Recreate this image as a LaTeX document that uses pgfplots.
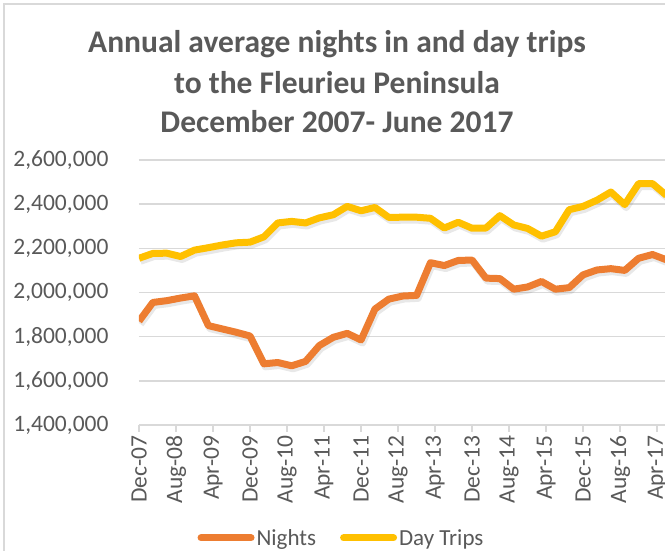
\documentclass[border=0pt]{standalone}
\usepackage{pgfplots}
\usepackage{pgfplotstable}
\pgfplotsset{compat=1.18}
\usepackage{fontspec}
\setmainfont{Carlito}

\definecolor{txt}{HTML}{595959}
\definecolor{gridc}{HTML}{D9D9D9}
\definecolor{nights}{HTML}{ED7D31}
\definecolor{daytrips}{HTML}{FFC000}

% months since Dec-07, quarterly annual averages
\pgfplotstableread{
m   nights   day
0   1870000  2155000
3   1955000  2177000
6   1963000  2178000
9   1975000  2163000
12  1985000  2192000
15  1850000  2203000
18  1835000  2215000
21  1820000  2225000
24  1803000  2228000
27  1677000  2252000
30  1683000  2315000
33  1668000  2322000
36  1688000  2315000
39  1760000  2338000
42  1797000  2352000
45  1815000  2390000
48  1785000  2370000
51  1925000  2385000
54  1970000  2340000
57  1984000  2341000
60  1987000  2341000
63  2135000  2336000
66  2122000  2292000
69  2145000  2318000
72  2147000  2291000
75  2065000  2292000
78  2063000  2348000
81  2015000  2306000
84  2025000  2290000
87  2050000  2255000
90  2015000  2275000
93  2022000  2375000
96  2080000  2390000
99  2102000  2418000
102 2108000  2455000
105 2100000  2398000
108 2155000  2493000
111 2172000  2493000
114 2148000  2440000
}\data

\begin{document}
\begin{tikzpicture}[x=1pt,y=1pt]
\useasboundingbox (0,0) rectangle (665,551);
\draw[gridc, line width=1.5pt] (4,-20) -- (4,547) -- (700,547);

\node[anchor=base, font=\fontsize{31.5}{36}\selectfont\bfseries, text=txt] at (337,498) {Annual average nights in and day trips};
\node[anchor=base, font=\fontsize{31.5}{36}\selectfont\bfseries, text=txt] at (337,457) {to the Fleurieu Peninsula};
\node[anchor=base, font=\fontsize{31.5}{36}\selectfont\bfseries, text=txt] at (337,418) {December 2007- June 2017};

\begin{axis}[
  at={(139pt,126pt)}, anchor=south west,
  width=526pt, height=265pt, scale only axis,
  xmin=0, xmax=113.7,
  ymin=1400000, ymax=2600000,
  ytick={1400000,1600000,...,2600000},
  scaled y ticks=false,
  /pgf/number format/assume math mode=true,
  /pgf/number format/fixed,
  /pgf/number format/1000 sep={,},
  xtick={0,8,...,112},
  xticklabels={Dec-07,Aug-08,Apr-09,Dec-09,Aug-10,Apr-11,Dec-11,Aug-12,Apr-13,Dec-13,Aug-14,Apr-15,Dec-15,Aug-16,Apr-17},
  x tick label style={rotate=90, anchor=east, font=\fontsize{23.5}{28}\selectfont, text=txt},
  y tick label style={font=\fontsize{23.5}{28}\selectfont, text=txt, xshift=-20pt},
  axis x line*=bottom, axis y line*=left,
  x axis line style={gridc, line width=2pt, -},
  y axis line style={draw=none},
  ytick style={draw=none},
  xtick style={gridc, line width=1.5pt},
  tick align=outside, major tick length=7pt,
  ymajorgrids, grid style={gridc, line width=1.5pt},
  legend columns=2,
  legend style={at={(0.385,-0.426)}, anchor=center, draw=none, fill=none,
    font=\fontsize{23}{28}\selectfont, text=txt,
    /tikz/every even column/.append style={column sep=22pt}},
  legend image code/.code={\draw[#1, line cap=round] (0pt,0pt) -- (50pt,0pt);},
]
\addplot[gray, opacity=0.18, line width=7pt, line join=round, xshift=1.5pt, yshift=-3pt, forget plot] table[x=m, y=nights] {\data};
\addplot[gray, opacity=0.18, line width=7pt, line join=round, xshift=1.5pt, yshift=-3pt, forget plot] table[x=m, y=day] {\data};
\addplot[nights, line width=7pt, line join=round] table[x=m, y=nights] {\data};
\addlegendentry{Nights}
\addplot[daytrips, line width=7pt, line join=round] table[x=m, y=day] {\data};
\addlegendentry{Day Trips}
\end{axis}
\end{tikzpicture}
\end{document}
